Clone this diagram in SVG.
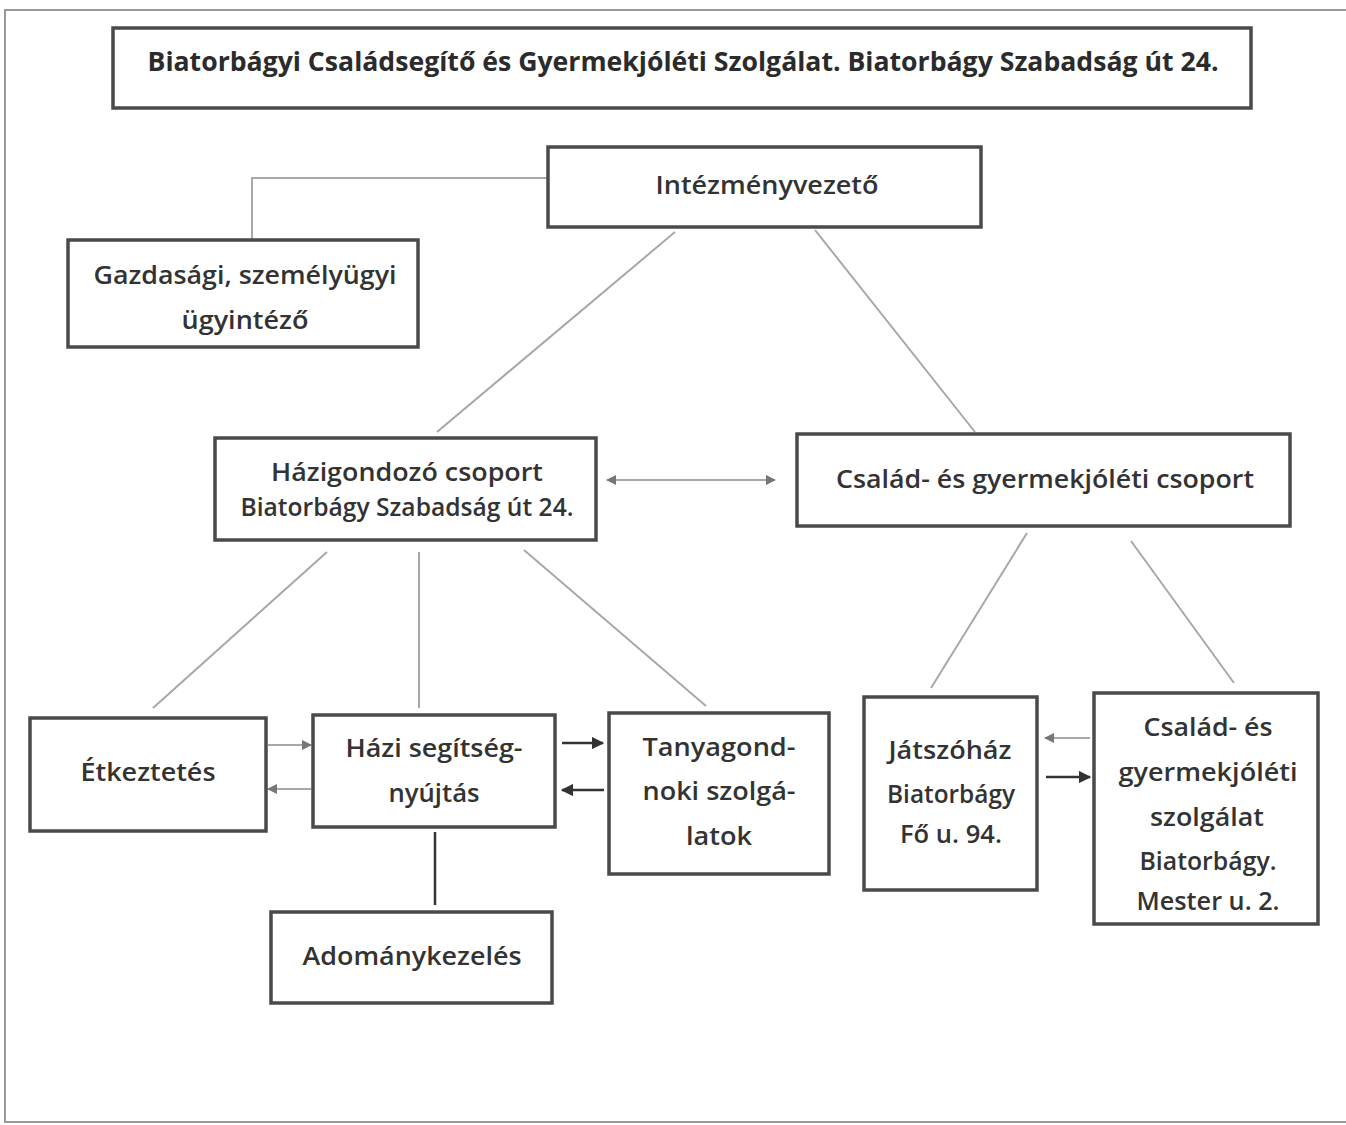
<svg xmlns="http://www.w3.org/2000/svg" width="1346" height="1125" viewBox="0 0 1346 1125">
<defs>
<style>
.box{fill:#fff;stroke:#4a4a4a;stroke-width:3.5}
.t{font-family:"Open Sans","Liberation Sans",sans-serif;font-size:25px;font-weight:600;fill:#333;text-anchor:middle}
.ttl{font-family:"Open Sans","Liberation Sans",sans-serif;font-size:27px;font-weight:700;fill:#2b2b2b;text-anchor:middle}
.ln{stroke:#a8a8a8;stroke-width:2;fill:none}
.dk{stroke:#333;stroke-width:2.5;fill:none}
</style>
<marker id="ag" viewBox="0 0 10 10" refX="9" refY="5" markerWidth="5" markerHeight="5" orient="auto-start-reverse" markerUnits="strokeWidth"><path d="M0,0 L10,5 L0,10 z" fill="#777"/></marker>
<marker id="ad" viewBox="0 0 10 10" refX="9" refY="5" markerWidth="5" markerHeight="5" orient="auto-start-reverse" markerUnits="strokeWidth"><path d="M0,0 L10,5 L0,10 z" fill="#333"/></marker>
</defs>
<rect width="1346" height="1125" fill="#fff"/>
<g id="frame" fill="none" stroke="#999" stroke-width="2">
<path d="M1346,10 H5 V1122 H1346"/>
</g>
<g id="connectors">
<path class="ln" d="M548,178 H252 V240"/>
<line class="ln" x1="675" y1="232" x2="437" y2="432"/>
<line class="ln" x1="815" y1="230" x2="975" y2="432"/>
<line class="ln" x1="607" y1="480" x2="775" y2="480" stroke="#ccc" marker-start="url(#ag)" marker-end="url(#ag)"/>
<line class="ln" x1="327" y1="552" x2="153" y2="708"/>
<line class="ln" x1="419" y1="552" x2="419" y2="708"/>
<line class="ln" x1="524" y1="550" x2="706" y2="706"/>
<line class="ln" x1="1027" y1="533" x2="931" y2="688"/>
<line class="ln" x1="1131" y1="541" x2="1234" y2="683"/>
<line class="ln" x1="268" y1="745" x2="311" y2="745" marker-end="url(#ag)"/>
<line class="ln" x1="311" y1="789" x2="268" y2="789" marker-end="url(#ag)"/>
<line class="dk" x1="562" y1="743" x2="603" y2="743" marker-end="url(#ad)"/>
<line class="dk" x1="604" y1="790" x2="562" y2="790" marker-end="url(#ad)"/>
<line class="dk" x1="435" y1="832" x2="435" y2="905"/>
<line class="ln" x1="1090" y1="738" x2="1045" y2="738" marker-end="url(#ag)"/>
<line class="dk" x1="1046" y1="777" x2="1090" y2="777" marker-end="url(#ad)"/>
</g>
<g id="title"><rect class="box" x="113" y="28" width="1138" height="80" stroke-width="4.5" stroke="#3a3a3a"/>
<text class="ttl" x="683" y="71" textLength="1071" lengthAdjust="spacingAndGlyphs">Biatorbágyi Családsegítő és Gyermekjóléti Szolgálat. Biatorbágy Szabadság út 24.</text></g>
<g id="intezmenyvezeto"><rect class="box" x="548" y="147" width="433" height="80"/>
<text class="t" x="767" y="194" textLength="223" lengthAdjust="spacingAndGlyphs">Intézményvezető</text></g>
<g id="gazdasagi"><rect class="box" x="68" y="240" width="350" height="107"/>
<text class="t" x="245" y="284" textLength="303" lengthAdjust="spacingAndGlyphs">Gazdasági, személyügyi</text>
<text class="t" x="245" y="329" textLength="127" lengthAdjust="spacingAndGlyphs">ügyintéző</text></g>
<g id="hazigondozo"><rect class="box" x="215" y="438" width="381" height="102"/>
<text class="t" x="407" y="481" textLength="272" lengthAdjust="spacingAndGlyphs">Házigondozó csoport</text>
<text class="t" x="407" y="516" textLength="333" lengthAdjust="spacingAndGlyphs">Biatorbágy Szabadság út 24.</text></g>
<g id="csalad-csoport"><rect class="box" x="797" y="434" width="493" height="92"/>
<text class="t" x="1045" y="488" textLength="418" lengthAdjust="spacingAndGlyphs">Család- és gyermekjóléti csoport</text></g>
<g id="etkeztetes"><rect class="box" x="30" y="718" width="236" height="113"/>
<text class="t" x="148" y="781" textLength="135" lengthAdjust="spacingAndGlyphs">Étkeztetés</text></g>
<g id="hazi-segitseg"><rect class="box" x="313" y="715" width="242" height="112"/>
<text class="t" x="434" y="757" textLength="177" lengthAdjust="spacingAndGlyphs">Házi segítség-</text>
<text class="t" x="434" y="802" textLength="91" lengthAdjust="spacingAndGlyphs">nyújtás</text></g>
<g id="tanyagond"><rect class="box" x="609" y="713" width="220" height="161"/>
<text class="t" x="719" y="756" textLength="153" lengthAdjust="spacingAndGlyphs">Tanyagond-</text>
<text class="t" x="719" y="800" textLength="153" lengthAdjust="spacingAndGlyphs">noki szolgá-</text>
<text class="t" x="719" y="845" textLength="66" lengthAdjust="spacingAndGlyphs">latok</text></g>
<g id="adomany"><rect class="box" x="271" y="912" width="281" height="91"/>
<text class="t" x="412" y="965" textLength="219" lengthAdjust="spacingAndGlyphs">Adománykezelés</text></g>
<g id="jatszohaz"><rect class="box" x="864" y="697" width="173" height="193"/>
<text class="t" x="950" y="759" textLength="123" lengthAdjust="spacingAndGlyphs">Játszóház</text>
<text class="t" x="951" y="803" textLength="128" lengthAdjust="spacingAndGlyphs">Biatorbágy</text>
<text class="t" x="951" y="843" textLength="102" lengthAdjust="spacingAndGlyphs">Fő u. 94.</text></g>
<g id="csalad-szolgalat"><rect class="box" x="1094" y="693" width="224" height="231"/>
<text class="t" x="1208" y="736" textLength="129" lengthAdjust="spacingAndGlyphs">Család- és</text>
<text class="t" x="1208" y="781" textLength="179" lengthAdjust="spacingAndGlyphs">gyermekjóléti</text>
<text class="t" x="1207" y="826" textLength="114" lengthAdjust="spacingAndGlyphs">szolgálat</text>
<text class="t" x="1208" y="870" textLength="137" lengthAdjust="spacingAndGlyphs">Biatorbágy.</text>
<text class="t" x="1208" y="910" textLength="143" lengthAdjust="spacingAndGlyphs">Mester u. 2.</text></g>
</svg>
